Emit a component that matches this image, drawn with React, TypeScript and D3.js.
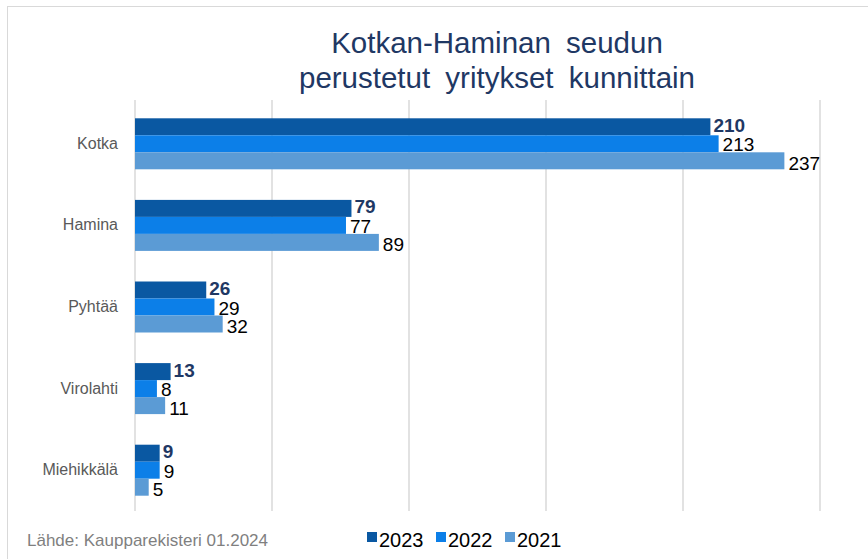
import React from 'react'
import * as d3 from 'd3'

const width = 868
const height = 559

const categories = ['Kotka', 'Hamina', 'Pyhtää', 'Virolahti', 'Miehikkälä']
const years = ['2023', '2022', '2021']
const values2023 = [210, 79, 26, 13, 9]
const values2022 = [213, 77, 29, 8, 9]
const values2021 = [237, 89, 32, 11, 5]
const xTicks = [0, 50, 100, 150, 200, 250]
const colors = ['#0a58a2', '#0c7fe8', '#5b9bd5']

const series = [values2023, values2022, values2021]
const labelOffset = [13.5, 16, 17.5]

const plot = { left: 135, right: 820, top: 103, bottom: 511 }

export default function App() {
  const x = d3.scaleLinear().domain([0, 250]).range([plot.left, plot.right])
  const y = d3
    .scaleBand()
    .domain(categories)
    .range([plot.top, plot.bottom])
    .paddingInner(0.375)
    .paddingOuter(0.1875)
  const inner = d3
    .scaleBand()
    .domain(years)
    .range([0, y.bandwidth()])

  return (
    <svg
      width={width}
      height={height}
      style={{ position: 'absolute', left: 0, top: 0, fontFamily: '"Liberation Sans", Arial, sans-serif' }}
    >
      <rect x={0} y={0} width={width} height={height} fill="#fff" />
      <rect x={7.5} y={6.5} width={width} height={height} fill="none" stroke="#d9d9d9" />

      <text x={497} y={53} textAnchor="middle" fontSize={29.5} fill="#1f3864" wordSpacing={7}>
        Kotkan-Haminan seudun
      </text>
      <text x={497} y={88} textAnchor="middle" fontSize={29.5} fill="#1f3864" wordSpacing={7}>
        perustetut yritykset kunnittain
      </text>

      {xTicks.map(t => (
        <line key={t} x1={x(t)} x2={x(t)} y1={plot.top - 3} y2={plot.bottom} stroke="#d9d9d9" strokeWidth={1.5} />
      ))}

      {categories.map((c, i) => (
        <g key={c}>
          <text
            x={118}
            y={(y(c) ?? 0) + y.bandwidth() / 2 + 5}
            textAnchor="end"
            fontSize={16}
            fill="#595959"
          >
            {c}
          </text>
          {series.map((vals, j) => {
            const by = (y(c) ?? 0) + (inner(years[j]) ?? 0)
            const bh = inner.bandwidth()
            return (
              <g key={j}>
                <rect x={x(0)} y={by} width={x(vals[i]) - x(0)} height={bh} fill={colors[j]} />
                <text
                  x={x(vals[i]) + (j === 0 ? 3 : 4)}
                  y={by + labelOffset[j]}
                  fontSize={19}
                  fontWeight={j === 0 ? 'bold' : 'normal'}
                  fill={j === 0 ? '#1f3864' : '#000'}
                >
                  {vals[i]}
                </text>
              </g>
            )
          })}
        </g>
      ))}

      <text x={27} y={546} fontSize={17} fill="#7f7f7f">
        Lähde: Kaupparekisteri 01.2024
      </text>

      {years.map((yr, j) => {
        const lx = 367 + j * 69
        return (
          <g key={yr}>
            <rect x={lx} y={532} width={10} height={10} fill={colors[j]} />
            <text x={lx + 12} y={547} fontSize={20} fill="#000">
              {yr}
            </text>
          </g>
        )
      })}
    </svg>
  )
}
